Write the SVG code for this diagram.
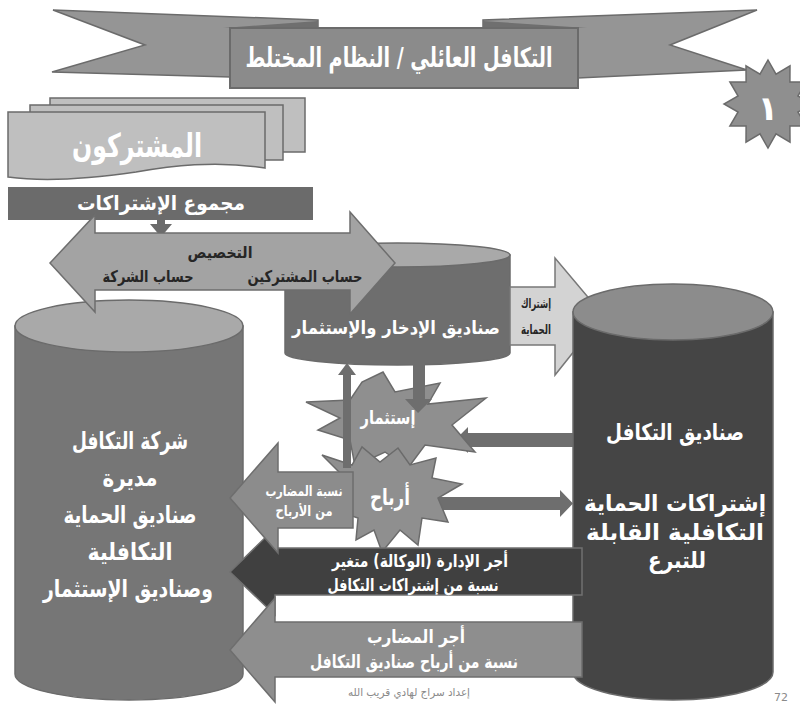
<svg xmlns="http://www.w3.org/2000/svg" width="800" height="706" viewBox="0 0 800 706">
<style>
text{font-family:"DejaVu Sans","Noto Sans",sans-serif;font-weight:bold;text-anchor:middle}
.w{fill:#ffffff}
.d{fill:#262626}
.st{stroke:#6b6b6b;stroke-width:1.5}
.wing{fill:#959595}
.fold{fill:#6f6f6f}
.sheet{fill:#bfbfbf}
.star{fill:#8f8f8f}
.flow{fill:#6e6e6e}
</style>
<rect width="800" height="706" fill="#ffffff"/>

<g id="banner">
  <polygon class="wing st" points="53,10 318,20 318,28 230,28 230,77 52,72 145,45"/>
  <polygon class="fold" points="223,28 318,21 318,28"/>
  <polygon class="wing st" points="757,10 483,20 483,28 578,28 578,78 747,70 670,45"/>
  <polygon class="fold" points="483,21 587,28 483,28"/>
  <rect x="230" y="28" width="348" height="60" fill="#8b8b8b" stroke="#6b6b6b" stroke-width="2"/>
  <text class="w" x="399" y="67" font-size="27" textLength="307" lengthAdjust="spacingAndGlyphs">التكافل العائلي / النظام المختلط</text>
</g>

<g id="badge-1">
  <polygon class="star st" points="768,60 776,74.1 790,65.9 789.9,82.1 806.1,82 797.9,96 812,104 797.9,112 806.1,126 789.9,125.9 790,142.1 776,133.9 768,148 760,133.9 746,142.1 746.1,125.9 729.9,126 738.1,112 724,104 738.1,96 729.9,82 746.1,82.1 746,65.9 760,74.1"/>
  <text class="w" x="768" y="120" font-size="34">١</text>
</g>

<g id="participants">
  <rect class="sheet st" x="50" y="98" width="255" height="54"/>
  <rect class="sheet st" x="30" y="105" width="253" height="55"/>
  <path class="sheet st" d="M8,112 H265 V168 C215,160 170,166 136,172 C95,178 45,182 8,177 Z"/>
  <text class="w" x="137" y="157" font-size="33" textLength="130" lengthAdjust="spacingAndGlyphs">المشتركون</text>
</g>

<g id="total-subscriptions">
  <rect x="8" y="187" width="305" height="33" fill="#6b6b6b"/>
  <text class="w" x="161" y="210" font-size="20" textLength="168" lengthAdjust="spacingAndGlyphs">مجموع الإشتراكات</text>
</g>

<g id="left-cylinder">
  <path d="M15,326 V674 A114,26 0 0 0 243,674 V326 Z" fill="#767676" stroke="#6b6b6b" stroke-width="1.5"/>
  <ellipse cx="129" cy="326" rx="114" ry="26" fill="#a9a9a9" stroke="#6b6b6b" stroke-width="1.5"/>
  <text class="w" x="130" y="449" font-size="24" textLength="116" lengthAdjust="spacingAndGlyphs">شركة التكافل</text>
  <text class="w" x="130" y="486" font-size="24" textLength="55" lengthAdjust="spacingAndGlyphs">مديرة</text>
  <text class="w" x="130" y="523" font-size="24" textLength="133" lengthAdjust="spacingAndGlyphs">صناديق الحماية</text>
  <text class="w" x="130" y="560" font-size="24" textLength="85" lengthAdjust="spacingAndGlyphs">التكافلية</text>
  <text class="w" x="128" y="597" font-size="24" textLength="170" lengthAdjust="spacingAndGlyphs">وصناديق الإستثمار</text>
</g>

<g id="savings-cylinder">
  <path d="M285,255 V353 A112.5,12 0 0 0 510,353 V255 Z" fill="#6e6e6e" stroke="#6b6b6b" stroke-width="1.5"/>
  <ellipse cx="397.5" cy="255" rx="112.5" ry="12" fill="#a9a9a9" stroke="#6b6b6b" stroke-width="1.5"/>
  <text class="w" x="396" y="334" font-size="18" textLength="208" lengthAdjust="spacingAndGlyphs">صناديق الإدخار والإستثمار</text>
</g>

<g id="connectors">
  <polygon fill="#6b6b6b" points="157,220 165,220 165,224 172,224 161,237 150,224 157,224"/>
  <polygon fill="#a3a3a3" stroke="#6e6e6e" stroke-width="1.5" points="50,263 95,215 95,233 350,233 350,212 395,263 350,314 350,290 95,290 95,312"/>
  <polygon fill="#d3d3d3" stroke="#787878" stroke-width="1.5" points="510,287 555,287 555,258 603,315 555,375 555,345 510,345"/>
  <polygon class="flow" points="580,433 468,433 468,427 455,440 468,453 468,447 580,447"/>
  <polygon class="flow" points="428,497 560,497 560,490 573,503.5 560,517 560,510 428,510"/>
</g>

<g id="right-cylinder">
  <path d="M573,312 V672 A100,28 0 0 0 773,672 V312 Z" fill="#454545" stroke="#6b6b6b" stroke-width="1.5"/>
  <ellipse cx="673" cy="312" rx="100" ry="28" fill="#8c8c8c" stroke="#6b6b6b" stroke-width="1.5"/>
  <text class="w" x="675" y="440" font-size="23" textLength="138" lengthAdjust="spacingAndGlyphs">صناديق التكافل</text>
  <text class="w" x="675" y="511" font-size="23" textLength="182" lengthAdjust="spacingAndGlyphs">إشتراكات الحماية</text>
  <text class="w" x="675" y="540" font-size="23" textLength="178" lengthAdjust="spacingAndGlyphs">التكافلية القابلة</text>
  <text class="w" x="677" y="568" font-size="23" textLength="58" lengthAdjust="spacingAndGlyphs">للتبرع</text>
</g>

<g id="protection-label">
  <text class="d" x="536" y="308" font-size="13" textLength="30" lengthAdjust="spacingAndGlyphs">إشتراك</text>
  <text class="d" x="536" y="334" font-size="13" textLength="30" lengthAdjust="spacingAndGlyphs">الحماية</text>
</g>

<g id="allocation-labels">
  <text class="d" x="220" y="258" font-size="16" textLength="65" lengthAdjust="spacingAndGlyphs">التخصيص</text>
  <text class="d" x="305" y="282" font-size="16" textLength="115" lengthAdjust="spacingAndGlyphs">حساب المشتركين</text>
  <text class="d" x="148" y="282" font-size="16" textLength="91" lengthAdjust="spacingAndGlyphs">حساب الشركة</text>
</g>

<g id="investment">
  <polygon class="star st" points="383,372 395,392 440,383 428,404 486,398 452,425 475,452 425,445 408,468 385,452 355,466 350,440 318,430 340,418 306,402 350,400 362,382"/>
  <text class="w" x="388" y="424" font-size="19" textLength="55" lengthAdjust="spacingAndGlyphs">إستثمار</text>
</g>

<g id="profits">
  <polygon class="star st" points="322,455 352,465 362,447 380,462 398,448 410,465 436,458 432,478 462,484 438,498 448,522 422,518 418,545 400,530 382,552 374,530 356,540 358,518 340,512 345,478"/>
  <text class="w" x="390" y="505" font-size="23" textLength="40" lengthAdjust="spacingAndGlyphs">أرباح</text>
</g>

<g id="vertical-flows">
  <polygon class="flow" points="343,468 343,375 338,375 347,363 356,375 351,375 351,468"/>
  <polygon class="flow" points="413,355 425,355 425,399 432,399 418,413 405,399 413,399"/>
</g>

<g id="management-fee">
  <polygon fill="#404040" stroke="#707070" stroke-width="1.5" points="230,572 275,528 275,548 582,548 582,595 275,595 275,615"/>
  <text class="w" x="420" y="567" font-size="17" textLength="176" lengthAdjust="spacingAndGlyphs">أجر الإدارة (الوكالة) متغير</text>
  <text class="w" x="413" y="591" font-size="17" textLength="171" lengthAdjust="spacingAndGlyphs">نسبة من إشتراكات التكافل</text>
</g>

<g id="mudarib-share">
  <polygon fill="#8c8c8c" stroke="#6e6e6e" stroke-width="1.5" points="230,498 278,443 278,472 353,472 353,528 278,528 278,553"/>
  <text class="w" x="304" y="496" font-size="14" textLength="77" lengthAdjust="spacingAndGlyphs">نسبة المضارب</text>
  <text class="w" x="304" y="516" font-size="14" textLength="57" lengthAdjust="spacingAndGlyphs">من الأرباح</text>
</g>

<g id="mudarib-fee">
  <polygon fill="#8e8e8e" stroke="#6e6e6e" stroke-width="1.5" points="230,650 275,598 275,622 582,622 582,677 275,677 275,702"/>
  <text class="w" x="416" y="643" font-size="18" textLength="98" lengthAdjust="spacingAndGlyphs">أجر المضارب</text>
  <text class="w" x="414" y="668" font-size="18" textLength="208" lengthAdjust="spacingAndGlyphs">نسبة من أرباح صناديق التكافل</text>
</g>

<g id="footer">
  <text x="409" y="696" font-size="11" fill="#8a8a8a" style="font-weight:normal" textLength="122" lengthAdjust="spacingAndGlyphs">إعداد سراج لهادي قريب الله</text>
  <text x="781" y="701" font-size="11" fill="#8a8a8a" style="font-weight:normal">72</text>
</g>
</svg>
